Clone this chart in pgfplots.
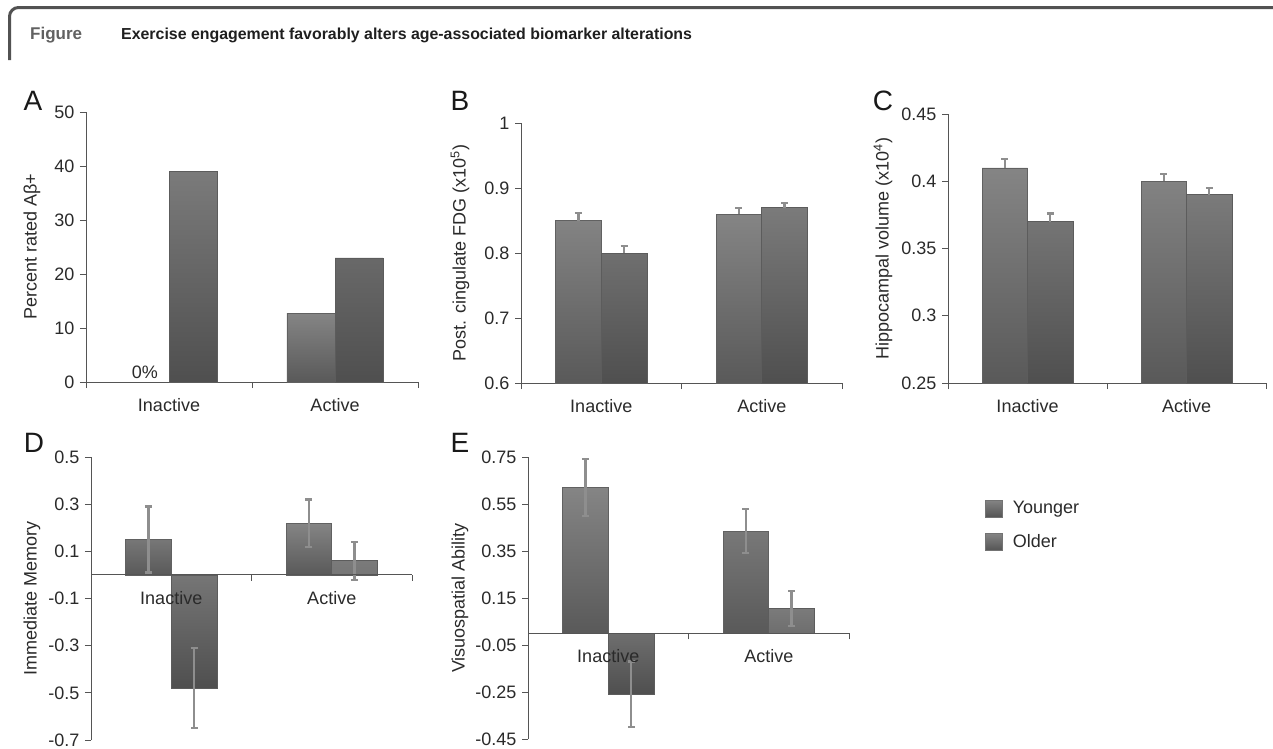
\documentclass[border=0pt]{standalone}
\usepackage{pgfplots}
\pgfplotsset{compat=1.18}
\usepackage{fontspec}
\setmainfont{Liberation Sans}
\definecolor{axgray}{HTML}{555555}
\definecolor{txtgray}{HTML}{2A2A2A}
\definecolor{errgray}{HTML}{8E8E8E}
\pgfplotsset{
  panel/.style={
    scale only axis, anchor=south west,
    xmin=-0.5, xmax=1.5,
    xtick={0,1}, xticklabels={Inactive,Active},
    every major x tick/.append style={draw=none},
    minor xtick={-0.5,0.5,1.5},
    axis y line=left, axis x line=bottom,
    axis line style={-, axgray, line width=0.9pt},
    x axis line style={-}, y axis line style={-},
    tick align=outside, major tick length=6pt, minor tick length=6pt,
    tick style={axgray, line width=0.9pt},
    scaled y ticks=false,
    /pgf/number format/assume math mode=true,
    /pgf/number format/fixed, /pgf/number format/precision=2,
    tick label style={font=\fontsize{18}{20}\selectfont, text=txtgray},
    xticklabel style={yshift=-7pt},
    yticklabel style={xshift=-2pt},
    label style={font=\fontsize{18}{20}\selectfont, text=txtgray},
    clip=true,
  },
  younger/.style={ybar, bar width=0.285, bar shift=0pt, draw=black!62, line width=0.6pt,
     top color=black!48, bottom color=black!65},
  older/.style={ybar, bar width=0.285, bar shift=0pt, draw=black!64, line width=0.6pt,
     top color=black!52, bottom color=black!69},
  errs/.style={error bars/.cd, y dir=#1, y explicit,
     error bar style={errgray, line width=2.6pt},
     error mark options={errgray, line width=2.2pt, mark size=3.4pt, rotate=90}},
}
\begin{document}
\begin{tikzpicture}
\path[use as bounding box] (0pt,0pt) rectangle (1273pt,-748pt);
% header
\draw[line width=3pt, black!68, rounded corners=9pt] (9.5pt,-60pt) -- (9.5pt,-7.5pt) -- (1273pt,-7.5pt);
\node[anchor=base west, inner sep=0pt, font=\bfseries\fontsize{17}{19}\selectfont, text=black!62] at (30pt,-39pt) {Figure};
\node[anchor=base west, inner sep=0pt, font=\bfseries\fontsize{15.9}{18}\selectfont, text=black!88] at (121pt,-39pt) {Exercise engagement favorably alters age-associated biomarker alterations};
% panel letters
\foreach \L/\x/\y in {A/33/110, B/460/110, C/883/110, D/34/452, E/460/452}
  \node[anchor=base, inner sep=0pt, font=\fontsize{28}{30}\selectfont, text=black!90] at (\x pt,-\y pt) {\L};

% Panel A
\begin{axis}[panel, at={(86pt,-382pt)}, width=332pt, height=270pt,
  ymin=0, ymax=50, ytick={0,10,20,30,40,50},
  ylabel={Percent rated Aβ+},
  ylabel style={at={([xshift=-54pt]axis description cs:0,0.5)}, anchor=center}]
\addplot[younger, bar width=0.29] coordinates {(0.855,12.7)};
\addplot[older, bar width=0.29] coordinates {(0.145,39) (1.145,23)};
\node[anchor=south, font=\fontsize{18}{20}\selectfont, text=txtgray] at (axis cs:-0.145,0) {0\%};
\end{axis}

% Panel B
\begin{axis}[panel, at={(521pt,-383pt)}, width=321pt, height=260pt,
  ymin=0.6, ymax=1, ytick={0.6,0.7,0.8,0.9,1},
  ylabel={Post. cingulate FDG (x10\textsuperscript{5})},
  ylabel style={at={([xshift=-61pt]axis description cs:0,0.5)}, anchor=center}]
\addplot[younger, errs=plus] coordinates {(-0.1425,0.85) +- (0,0.011) (0.8575,0.86) +- (0,0.009)};
\addplot[older, errs=plus] coordinates {(0.1425,0.80) +- (0,0.011) (1.1425,0.87) +- (0,0.007)};
\end{axis}

% Panel C
\begin{axis}[panel, at={(948pt,-383pt)}, width=318pt, height=269pt,
  ymin=0.25, ymax=0.45, ytick={0.25,0.3,0.35,0.4,0.45},
  ylabel={Hippocampal volume (x10\textsuperscript{4})},
  ylabel style={at={([xshift=-65pt]axis description cs:0,0.5)}, anchor=center}]
\addplot[younger, errs=plus] coordinates {(-0.1425,0.41) +- (0,0.0067) (0.8575,0.40) +- (0,0.0055)};
\addplot[older, errs=plus] coordinates {(0.1425,0.37) +- (0,0.006) (1.1425,0.39) +- (0,0.0047)};
\end{axis}

% Panel D
\begin{axis}[panel, at={(91pt,-740pt)}, width=321pt, height=283pt,
  axis x line=middle, axis y line=left, tick align=outside, axis on top,
  x axis line style={-}, y axis line style={-},
  ymin=-0.7, ymax=0.5, ytick={-0.7,-0.5,-0.3,-0.1,0.1,0.3,0.5},
  ylabel={Immediate Memory},
  ylabel style={at={([xshift=-59pt]axis description cs:0,0.5)}, anchor=center}]
\addplot[younger, errs=both] coordinates {(-0.1425,0.15) +- (0,0.14) (0.8575,0.22) +- (0,0.10)};
\addplot[older, errs=both] coordinates {(0.1425,-0.48) +- (0,0.17) (1.1425,0.06) +- (0,0.08)};
\end{axis}

% Panel E
\begin{axis}[panel, at={(528pt,-739pt)}, width=321pt, height=282pt,
  axis x line=middle, axis y line=left, tick align=outside, axis on top,
  x axis line style={-}, y axis line style={-},
  ymin=-0.45, ymax=0.75, ytick={-0.45,-0.25,-0.05,0.15,0.35,0.55,0.75},
  ylabel={Visuospatial Ability},
  ylabel style={at={([xshift=-68pt]axis description cs:0,0.5)}, anchor=center},
  legend image code/.code={\path[top color=black!48, bottom color=black!67, draw=black!55, line width=0.5pt] (0pt,-8.5pt) rectangle (17pt,8.5pt);},
  legend style={at={(axis description cs:1.424,0.849)}, anchor=north west, draw=none, fill=none,
    inner sep=0pt, row sep=16pt, font=\fontsize{18}{20}\selectfont, text=txtgray,
    nodes={inner sep=0pt}, /tikz/every odd column/.append style={column sep=10pt}},
  legend cell align=left]
\addplot[younger, errs=both] coordinates {(-0.1425,0.62) +- (0,0.12) (0.8575,0.435) +- (0,0.095)};
\addlegendentry{Younger}
\addplot[older, errs=both] coordinates {(0.1425,-0.26) +- (0,0.14) (1.1425,0.105) +- (0,0.075)};
\addlegendentry{Older}
\end{axis}
\end{tikzpicture}
\end{document}
